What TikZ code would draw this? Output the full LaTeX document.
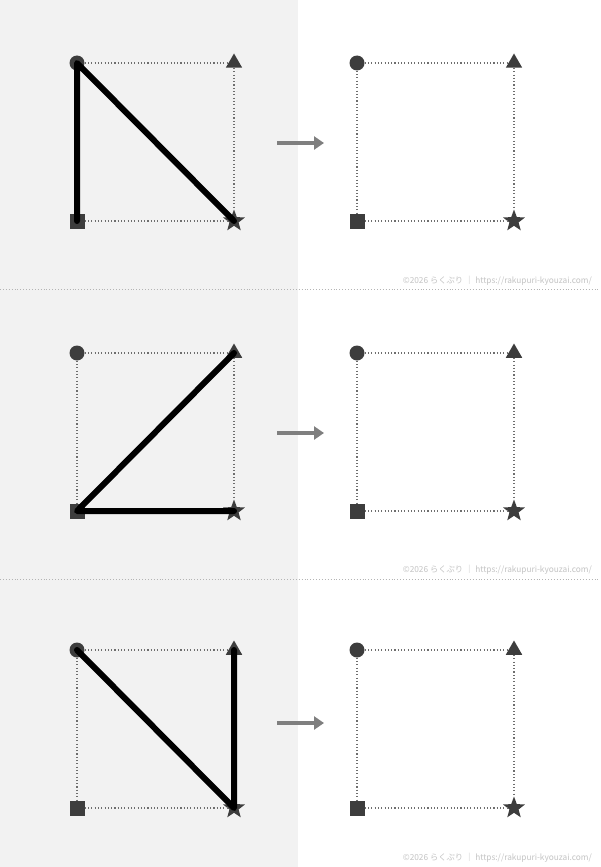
\documentclass[tikz,border=0pt]{standalone}
\usepackage{fontspec}
\newfontfamily\cjk{Noto Sans CJK JP}
\usetikzlibrary{shapes.geometric,arrows.meta}
\definecolor{bgc}{HTML}{F2F2F2}
\definecolor{markc}{HTML}{3D3D3D}
\definecolor{dotc}{HTML}{6E6E6E}
\definecolor{sepc}{HTML}{B4B4B4}
\definecolor{arrc}{HTML}{7F7F7F}
\definecolor{copyc}{HTML}{C4C4C4}
\tikzset{
  dotmark/.style={circle,fill=markc,inner sep=0pt,minimum size=15pt},
  sqmark/.style={rectangle,fill=markc,inner sep=0pt,minimum size=15pt},
  trimark/.style={regular polygon,regular polygon sides=3,fill=markc,inner sep=0pt,minimum size=19pt},
  starmark/.style={star,star points=5,star point ratio=2.4,fill=markc,inner sep=0pt,minimum size=23pt},
  guide/.style={draw=dotc,line width=1.1pt,dash pattern=on 1.1pt off 2.2pt},
  sepline/.style={draw=sepc,line width=0.9pt,dash pattern=on 0.9pt off 2pt},
  pathline/.style={draw=black,line width=6pt,line cap=round,line join=round},
  nextarrow/.style={draw=arrc,line width=4pt,-{Triangle[length=10pt,width=13pt]}},
  credit/.style={anchor=east,text=copyc,font=\cjk\fontsize{8.3}{9}\selectfont,inner sep=0pt},
}
\begin{document}
\begin{tikzpicture}[x=1pt,y=-1pt]
\useasboundingbox (0,0) rectangle (600,867);
\fill[white] (0,0) rectangle (600,867);
\fill[bgc] (0,0) rectangle (298,867);
\coordinate (sepAl) at (0,289);
\coordinate (sepAr) at (600,289);
\coordinate (sepBl) at (0,579);
\coordinate (sepBr) at (600,579);
\draw[sepline] (sepAl) -- (sepAr);
\draw[sepline] (sepBl) -- (sepBr);
\foreach \p/\yt/\ya/\yc in {1/63/143/281, 2/353/433/570, 3/650/723/858}{
  \foreach \s/\xl in {L/77, R/357}{
    \pgfmathsetmacro{\xr}{\xl+157}
    \pgfmathsetmacro{\yb}{\yt+158}
    \node[dotmark] (c\p\s) at (\xl,\yt) {};
    \node[trimark] (t\p\s) at (\xr,\yt) {};
    \node[sqmark] (q\p\s) at (\xl,\yb) {};
    \node[starmark] (s\p\s) at (\xr,\yb) {};
    \draw[guide] (c\p\s) -- (t\p\s);
    \draw[guide] (t\p\s) -- (s\p\s);
    \draw[guide] (q\p\s) -- (s\p\s);
    \draw[guide] (c\p\s) -- (q\p\s);
  }
  \coordinate (a\p s) at (277,\ya);
  \coordinate (a\p e) at (324,\ya);
  \draw[nextarrow] (a\p s) -- (a\p e);
  \node[credit] (cr\p) at (592,\yc) {©2026 らくぷり ｜ https://rakupuri-kyouzai.com/};
}
\draw[pathline] (q1L.center) -- (c1L.center) -- (s1L.center);
\draw[pathline] (t2L.center) -- (q2L.center) -- (s2L.center);
\draw[pathline] (c3L.center) -- (s3L.center) -- (t3L.center);
\end{tikzpicture}
\end{document}
